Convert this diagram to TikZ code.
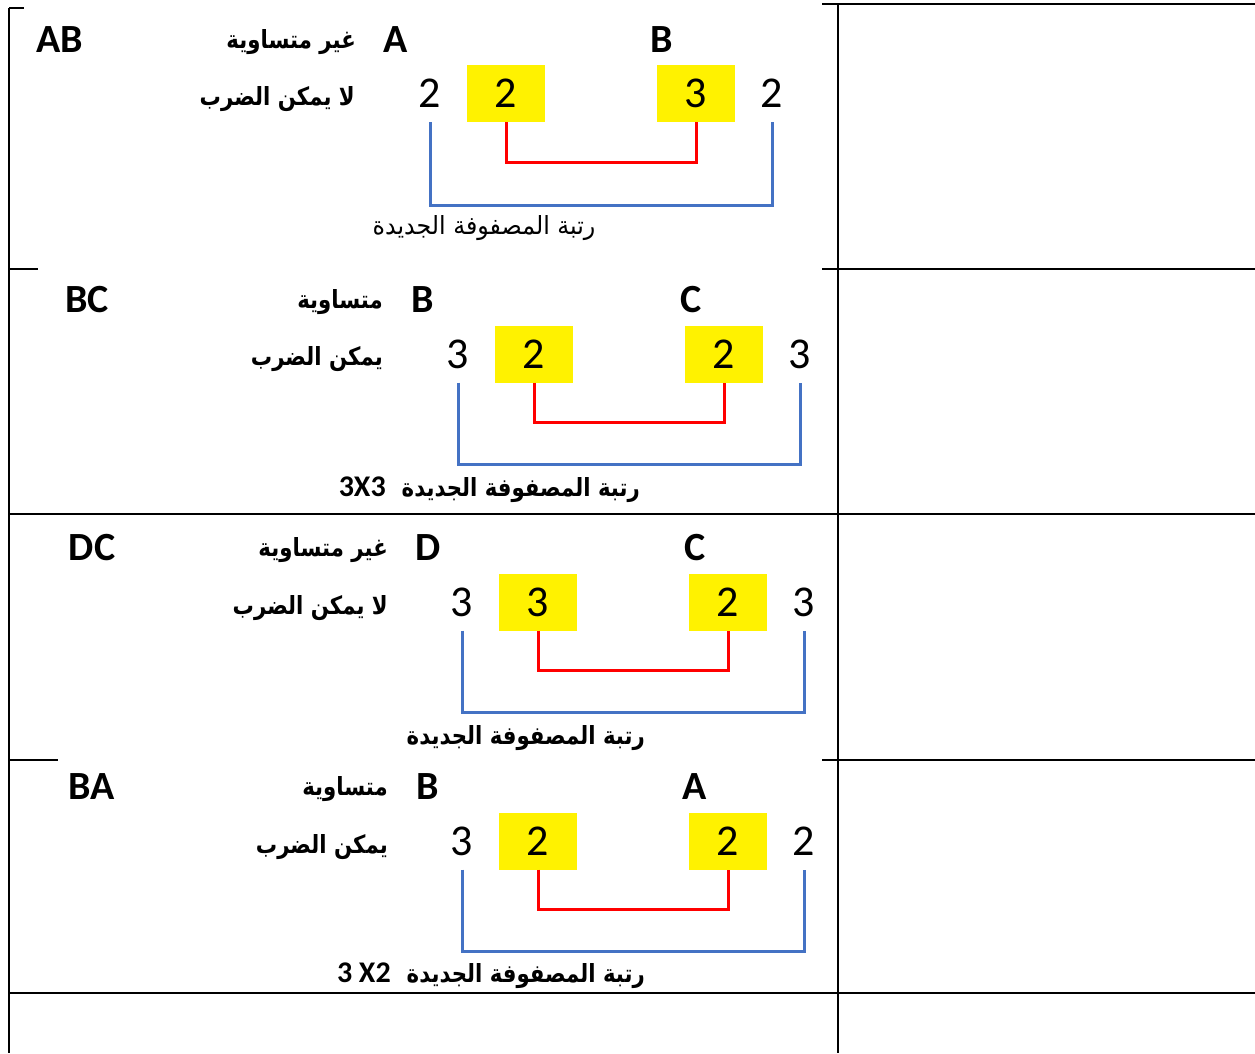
\documentclass[tikz,border=0pt]{standalone}
\usepackage{fontspec}
\setmainfont{Carlito}
\newfontfamily\arabicfont[Script=Arabic,FakeStretch=0.85]{DejaVu Sans}
\newfontfamily\arabicreg[Script=Arabic,FakeStretch=0.95]{DejaVu Sans}
\newfontfamily\latinfont{Carlito}
\TeXXeTstate=1
\definecolor{bracketblue}{RGB}{68,114,196}
\newcommand\dimlbl[1]{{\latinfont\fontsize{30}{34}\selectfont\bfseries #1}}
\tikzset{
  grid/.style={line width=2pt, black},
  pairlbl/.style={font=\fontsize{40}{44}\selectfont\bfseries, inner sep=0},
  letter/.style={font=\fontsize{40}{44}\selectfont\bfseries, inner sep=0},
  num/.style={font=\fontsize{44}{50}\selectfont, inner sep=0, minimum width=40pt, minimum height=57pt},
  ybox/.style={num, fill=yellow, minimum width=78pt},
  arb/.style={font=\fontsize{25}{30}\selectfont\arabicfont\bfseries, inner sep=0, anchor=east},
  arlbl/.style={font=\fontsize{25}{30}\selectfont\arabicreg, inner sep=0},
  redline/.style={line width=3pt, red},
  blueline/.style={line width=3pt, bracketblue},
}
\begin{document}
\begin{tikzpicture}[x=1pt,y=-1pt]
\useasboundingbox (0,0) rectangle (1255,1053);
% table lines
\draw[grid] (9,8) -- (9,1053);
\draw[grid] (9,8) -- (24,8);
\draw[grid] (822,4) -- (1255,4);
\draw[grid] (838,4) -- (838,1053);
\draw[grid] (9,269) -- (38,269);
\draw[grid] (822,269) -- (1255,269);
\draw[grid] (9,514) -- (1255,514);
\draw[grid] (9,760) -- (58,760);
\draw[grid] (822,760) -- (1255,760);
\draw[grid] (9,993) -- (1255,993);

% ---------- Row 1: AB ----------
\node[pairlbl] (p1) at (60,40) {AB};
\node[arb] (e1) at (356,42) {\beginR غير متساوية\endR};
\node[letter] (l1) at (396,40) {A};
\node[letter] (r1) at (662,40) {B};
\node[arb] (m1) at (355,99) {\beginR لا يمكن الضرب\endR};
\node[num] (a1) at (430,93.5) {2};
\node[ybox] (b1) at (506,93.5) {2};
\node[ybox] (c1) at (696,93.5) {3};
\node[num] (d1) at (772,93.5) {2};
\draw[redline] (b1.south) -- ++(0,40) -| (c1.south);
\draw[blueline] (a1.south) -- ++(0,83) -| (d1.south);
\node[arlbl] (t1) at (484,228) {\beginR رتبة المصفوفة الجديدة\endR};

% ---------- Row 2: BC ----------
\node[pairlbl] (p2) at (87,300) {BC};
\node[arb] (e2) at (383,302) {\beginR متساوية\endR};
\node[letter] (l2) at (423,300) {B};
\node[letter] (r2) at (691,300) {C};
\node[arb] (m2) at (383,359) {\beginR يمكن الضرب\endR};
\node[num] (a2) at (458,354) {3};
\node[ybox] (b2) at (534,354) {2};
\node[ybox] (c2) at (724,354) {2};
\node[num] (d2) at (800,354) {3};
\draw[redline] (b2.south) -- ++(0,40) -| (c2.south);
\draw[blueline] (a2.south) -- ++(0,82) -| (d2.south);
\node[arb] (t2) at (640,490) {\beginR رتبة المصفوفة الجديدة\hspace{16pt}\beginL\dimlbl{3X3}\endL\endR};

% ---------- Row 3: DC ----------
\node[pairlbl] (p3) at (92,548) {DC};
\node[arb] (e3) at (388,550) {\beginR غير متساوية\endR};
\node[letter] (l3) at (428,548) {D};
\node[letter] (r3) at (695,548) {C};
\node[arb] (m3) at (388,608) {\beginR لا يمكن الضرب\endR};
\node[num] (a3) at (462,602) {3};
\node[ybox] (b3) at (538,602) {3};
\node[ybox] (c3) at (728,602) {2};
\node[num] (d3) at (804,602) {3};
\draw[redline] (b3.south) -- ++(0,40) -| (c3.south);
\draw[blueline] (a3.south) -- ++(0,82) -| (d3.south);
\node[arb] (t3) at (645,738) {\beginR رتبة المصفوفة الجديدة\endR};

% ---------- Row 4: BA ----------
\node[pairlbl] (p4) at (92,787) {BA};
\node[arb] (e4) at (388,789) {\beginR متساوية\endR};
\node[letter] (l4) at (428,787) {B};
\node[letter] (r4) at (695,787) {A};
\node[arb] (m4) at (388,847) {\beginR يمكن الضرب\endR};
\node[num] (a4) at (462,841) {3};
\node[ybox] (b4) at (538,841) {2};
\node[ybox] (c4) at (728,841) {2};
\node[num] (d4) at (804,841) {2};
\draw[redline] (b4.south) -- ++(0,40) -| (c4.south);
\draw[blueline] (a4.south) -- ++(0,82) -| (d4.south);
\node[arb] (t4) at (645,976) {\beginR رتبة المصفوفة الجديدة\hspace{16pt}\beginL\dimlbl{3 X2}\endL\endR};
\end{tikzpicture}
\end{document}
